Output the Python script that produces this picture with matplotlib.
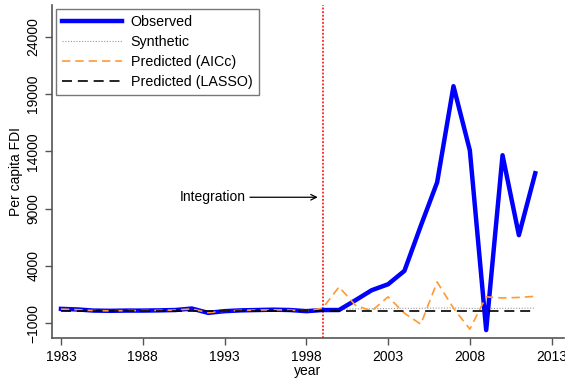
import numpy as np
import matplotlib
matplotlib.use("Agg")
import matplotlib.pyplot as plt

plt.rcParams['font.family'] = ['Liberation Sans', 'DejaVu Sans']

years = list(range(1983, 2013))
observed = [250, 200, 100, 80, 100, 100, 120, 150, 280, -100, 50, 120, 150, 180, 150, 50,
            150, 150, 1000, 1880, 2400, 3570, 7500, 11300, 19700, 14100, -1600, 13670, 6690, 12100]
synthetic = [220, 180, 120, 100, 110, 110, 120, 150, 220, 0, 60, 120, 150, 170, 150, 80,
             180, 220, 250, 260, 280, 300, 300, 320, 330, 300, 280, 300, 300, 320]
pred_aicc = [230, 180, 100, 80, 100, 100, 120, 150, 250, -80, 60, 120, 150, 170, 150, 60,
             310, 2170, 570, 75, 1300, -130, -1090, 2600, 310, -1520, 1300, 1200, 1250, 1350]
pred_lasso = [100] * 30

intervention = 1999
yticks = [-1000, 4000, 9000, 14000, 19000, 24000]
xticks = [1983, 1988, 1993, 1998, 2003, 2008, 2013]

fig = plt.figure(figsize=(5.65, 3.79), dpi=100)
ax = fig.add_axes([0.092, 0.108, 0.906, 0.879])

ax.plot(years, observed, color='#0000ff', lw=3.2, label='Observed', zorder=3)
ax.plot(years, synthetic, color='#999999', lw=0.8, ls=(0, (1, 1.5)), label='Synthetic', zorder=2)
ax.plot(years, pred_aicc, color='#ff9933', lw=1.2, ls=(0, (5, 3)), label='Predicted (AICc)', zorder=4)
ax.plot(years, pred_lasso, color='black', lw=1.2, ls=(0, (6, 3.5)), label='Predicted (LASSO)', zorder=4)
ax.axvline(intervention, color='#ff2020', lw=1.3, ls=(0, (1, 1)), zorder=1)

ax.annotate('Integration', xy=(1998.7, 10000), xytext=(1994.3, 10000),
            ha='right', va='center', fontsize=10,
            arrowprops=dict(arrowstyle='->', color='black', lw=0.9, shrinkA=1, shrinkB=0))

ax.set_xlim(1982.45, 2013.75)
ax.set_ylim(-2300, 26800)
ax.set_xticks(xticks)
ax.set_yticks(yticks)
ax.set_yticklabels([str(v).replace('-', '\u2212') for v in yticks], rotation=90, va='center')
ax.tick_params(labelsize=10, color='#555555', length=5, width=1)
for s in ['top', 'right']:
    ax.spines[s].set_visible(False)
for s in ['left', 'bottom']:
    ax.spines[s].set_color('#555555')
    ax.spines[s].set_linewidth(1.2)

ax.set_xlabel('year', fontsize=10, labelpad=0)
ax.set_ylabel('Per capita FDI', fontsize=10, labelpad=2)

leg = ax.legend(loc='upper left', bbox_to_anchor=(0.0, 1.0), borderaxespad=0.25,
                fontsize=10.3, frameon=True, fancybox=False, edgecolor='#555555',
                handlelength=4.2, borderpad=0.45, labelspacing=0.42, handletextpad=0.6)
leg.get_frame().set_linewidth(1.0)

fig.savefig('out.png', dpi=100)
